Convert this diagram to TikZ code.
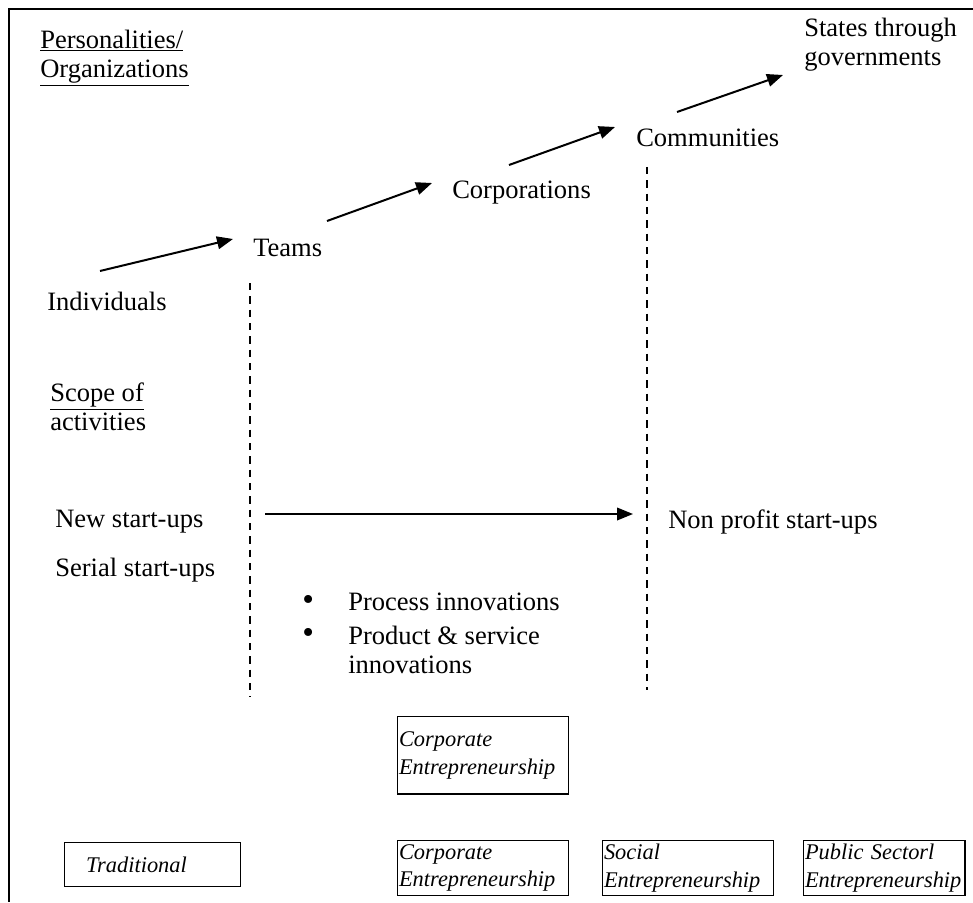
\documentclass[tikz,border=0pt]{standalone}
\usepackage{fontspec}
\setmainfont{Liberation Serif}
\usetikzlibrary{arrows.meta}
\begin{document}
\begin{tikzpicture}[
    x=0.75pt, y=-0.75pt,
    font=\fontsize{19.9}{21.75}\selectfont,
    txt/.style={anchor=west, inner sep=0pt, align=left},
    punkt/.style={txt, font=\fontsize{25}{25}\selectfont},
    pfeil/.style={-{Triangle[length=12pt,width=9.5pt]}, line width=1.5pt},
    trenn/.style={line width=1pt, dash pattern=on 5.5pt off 4.5pt},
    kasten/.style={draw, line width=1pt, anchor=north west, align=left, inner xsep=1pt, inner ysep=0pt,
      text width=126pt, font=\fontsize{16.8}{20.5}\selectfont\itshape}
  ]
  \useasboundingbox (0,0) rectangle (973,902);
  \draw[line width=1.5pt] (973,9) -- (9,9) -- (9,902);

  \node[txt] (pers) at (40,58) {\underline{Personalities/}\\\underline{Organizations}};
  \node[txt] (states) at (804,45) {States through\\governments};
  \node[txt] (comm) at (636,138) {Communities};
  \node[txt] (corp) at (452,193) {Corporations};
  \node[txt] (teams) at (253,248) {Teams};
  \node[txt] (indiv) at (47,301) {Individuals};

  \coordinate (a1) at (100,271); \coordinate (a2) at (233,239);
  \coordinate (b1) at (327,221); \coordinate (b2) at (432,183);
  \coordinate (c1) at (509,165); \coordinate (c2) at (615,127);
  \coordinate (d1) at (677,112); \coordinate (d2) at (783,75);
  \draw[pfeil] (a1) -- (a2);
  \draw[pfeil] (b1) -- (b2);
  \draw[pfeil] (c1) -- (c2);
  \draw[pfeil] (d1) -- (d2);

  \node[txt] (scope) at (50,407) {\underline{Scope of}\\activities};
  \node[txt] (newsu) at (55,522) {New start-ups};
  \node[txt] (serial) at (55,570) {Serial start-ups};
  \node[txt] (nonprof) at (668,522) {Non profit start-ups};
  \node[punkt] (bul1) at (302,603) {\textbullet};
  \node[txt] (proc) at (348,602) {Process innovations};
  \node[punkt] (bul2) at (302,636) {\textbullet};
  \node[txt] (prod) at (348,650) {Product \& service\\innovations};

  \coordinate (h1) at (265,514); \coordinate (h2) at (633,514);
  \draw[pfeil, line width=1.2pt] (h1) -- (h2);

  \coordinate (t1) at (250,283); \coordinate (t2) at (250,697);
  \coordinate (u1) at (647,167); \coordinate (u2) at (647,690);
  \draw[trenn] (t1) -- (t2);
  \draw[trenn] (u1) -- (u2);

  \node[kasten, minimum height=58pt] (corpo) at (397,716) {Corporate\\Entrepreneurship};
  \node[kasten, inner xsep=16pt, text width=100pt, minimum height=33pt] (trad) at (64,842) {Traditional};
  \node[kasten, minimum height=41pt] (corpu) at (397,840) {Corporate\\Entrepreneurship};
  \node[kasten, minimum height=41pt] (social) at (602,840) {Social\\Entrepreneurship};
  \node[kasten, text width=119pt, minimum height=41pt] (public) at (803,840) {Public Sectorl\\Entrepreneurship};
\end{tikzpicture}
\end{document}
